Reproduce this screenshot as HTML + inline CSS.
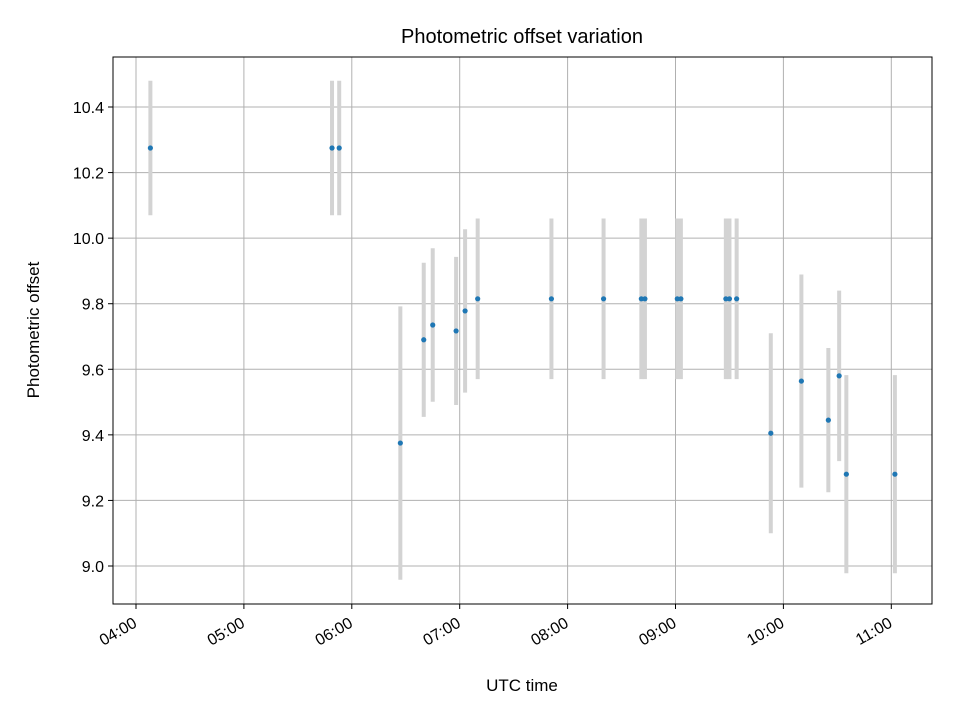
<!DOCTYPE html>
<html><head><meta charset="utf-8"><style>
body{margin:0;background:#fff}
svg{font-family:"Liberation Sans","DejaVu Sans",sans-serif}
</style></head><body>
<svg id="chart" width="960" height="720" xmlns="http://www.w3.org/2000/svg"></svg>
<script>
const times=["04:08","05:49","05:53","06:27","06:40","06:45","06:58","07:03","07:10","07:51","08:20","08:41","08:43","09:01","09:03","09:28","09:30","09:34","09:53","10:10","10:25","10:31","10:35","11:02"];
const offsets=[10.275,10.275,10.275,9.375,9.69,9.735,9.717,9.778,9.815,9.815,9.815,9.815,9.815,9.815,9.815,9.815,9.815,9.815,9.405,9.564,9.445,9.58,9.28,9.28];
const errors=[0.205,0.205,0.205,0.417,0.235,0.234,0.226,0.249,0.245,0.245,0.245,0.245,0.245,0.245,0.245,0.245,0.245,0.245,0.305,0.325,0.22,0.26,0.302,0.302];
const xTicks=["04:00","05:00","06:00","07:00","08:00","09:00","10:00","11:00"];
const yTicks=[9.0,9.2,9.4,9.6,9.8,10.0,10.2,10.4];
const NS="http://www.w3.org/2000/svg";
const svg=document.getElementById('chart');
const L=113,R=932,T=57,B=604;
const toMin=s=>{const p=s.split(':');return +p[0]*60+ +p[1];};
const xs=m=>136+(m-240)*(107.9/60);
const ys=v=>566-(v-9.0)*(459/1.4);
function el(tag,attrs,name,text){const e=document.createElementNS(NS,tag);for(const k in attrs)e.setAttribute(k,attrs[k]);


if(text!==undefined)e.textContent=text;svg.appendChild(e);return e;}
xTicks.forEach(t=>{const x=xs(toMin(t));el('line',{x1:x,x2:x,y1:T,y2:B,stroke:'#b0b0b0','stroke-width':1},'x-grid-line');});
yTicks.forEach(v=>{const y=ys(v);el('line',{x1:L,x2:R,y1:y,y2:y,stroke:'#b0b0b0','stroke-width':1},'y-grid-line');});
times.forEach((t,i)=>{const x=xs(toMin(t));el('line',{x1:x,x2:x,y1:ys(offsets[i]+errors[i]),y2:ys(offsets[i]-errors[i]),stroke:'#d3d3d3','stroke-width':4},'error-bar');});
times.forEach((t,i)=>{el('circle',{cx:xs(toMin(t)),cy:ys(offsets[i]),r:2.6,fill:'#1f77b4'},'data-point');});
el('rect',{x:L,y:T,width:R-L,height:B-T,fill:'none',stroke:'#000','stroke-width':1},'plot-frame');
xTicks.forEach(t=>{const x=xs(toMin(t));el('line',{x1:x,x2:x,y1:B,y2:B+5,stroke:'#000'},'x-tick');
const ax=x+2,ay=B+22;
el('text',{x:ax,y:ay,'font-size':16,'text-anchor':'end',transform:`rotate(-30 ${ax} ${ay})`},'x-tick-label',t);});
yTicks.forEach(v=>{const y=ys(v);el('line',{x1:L-5,x2:L,y1:y,y2:y,stroke:'#000'},'y-tick');
el('text',{x:L-9,y:y+6,'font-size':16,'text-anchor':'end'},'y-tick-label',v.toFixed(1));});
el('text',{x:522,y:43,'font-size':20,'text-anchor':'middle'},'chart-title','Photometric offset variation');
el('text',{x:522,y:691,'font-size':17,'text-anchor':'middle'},'x-axis-title','UTC time');
el('text',{x:39,y:330,'font-size':17,'text-anchor':'middle',transform:'rotate(-90 39 330)'},'y-axis-title','Photometric offset');
</script>
</body></html>
